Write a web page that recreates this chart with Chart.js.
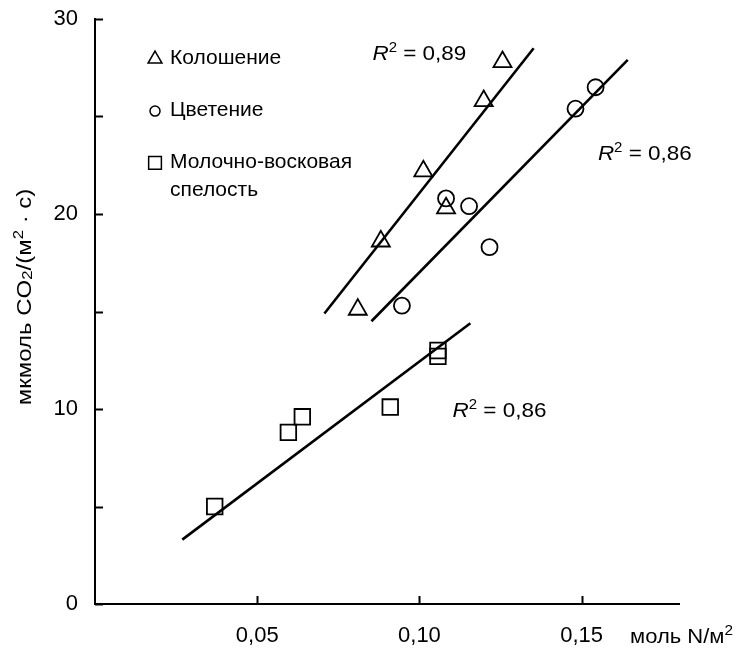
<!DOCTYPE html>
<html>
<head>
<meta charset="utf-8">
<script src="https://cdn.jsdelivr.net/npm/chart.js@4.4.1/dist/chart.umd.min.js"></script>
<style>
  html, body { margin: 0; padding: 0; background: #fff; }
  #wrap { width: 736px; height: 648px; position: relative; }
</style>
</head>
<body>
<div id="wrap"><canvas id="chart"></canvas></div>
<script>
// Колошение (треугольники)
const kolX = [0.0810, 0.0881, 0.1012, 0.1082, 0.1198, 0.1256];
const kolY = [15.1, 18.6, 22.2, 20.3, 25.8, 27.8];
// Цветение (кружки)
const cvetX = [0.0946, 0.1082, 0.1153, 0.1216, 0.1481, 0.1543];
const cvetY = [15.3, 20.8, 20.4, 18.3, 25.4, 26.5];
// Молочно-восковая спелость (квадраты)
const molX = [0.0369, 0.0596, 0.0639, 0.0910, 0.1057, 0.1057];
const molY = [5.0, 8.8, 9.6, 10.1, 13.0, 12.7];

// линии тренда (начало, конец)
const kolTrendX = [0.0707, 0.1352];
const kolTrendY = [14.9, 28.5];
const cvetTrendX = [0.0852, 0.1642];
const cvetTrendY = [14.5, 27.9];
const molTrendX = [0.0269, 0.1157];
const molTrendY = [3.3, 14.4];

const seriesNames = ['Колошение', 'Цветение', 'Молочно-восковая', 'спелость'];
const r2Values = ['0,89', '0,86', '0,86'];
const xTicks = [0.05, 0.10, 0.15];
const xTickLabels = ['0,05', '0,10', '0,15'];
const yTicks = [0, 10, 20, 30];
const yMinorTicks = [5, 15, 25];

const FONT = '"Liberation Sans", Arial, sans-serif';
const toPts = (xs, ys) => xs.map((x, i) => ({ x: x, y: ys[i] }));

// текст с верхними/нижними индексами, k - растяжение по горизонтали
function richText(ctx, x, y, parts, size, k, measureOnly) {
  ctx.save();
  ctx.translate(x, y);
  ctx.scale(k, 1);
  let cx = 0;
  parts.forEach(p => {
    const s = (p.sup || p.sub) ? Math.round(size * 0.68) : size;
    ctx.font = (p.italic ? 'italic ' : '') + s + 'px ' + FONT;
    let dy = 0;
    if (p.sup) dy = -size * 0.38;
    if (p.sub) dy = size * 0.05;
    if (!measureOnly) ctx.fillText(p.t, cx, dy);
    cx += ctx.measureText(p.t).width;
  });
  ctx.restore();
  return cx * k;
}

const extras = {
  id: 'extras',
  afterDraw(chart) {
    const ctx = chart.ctx;
    const xs = chart.scales.x, ys = chart.scales.y;
    const area = chart.chartArea;
    ctx.save();
    ctx.strokeStyle = '#000';
    ctx.fillStyle = '#000';
    ctx.lineWidth = 2;

    // засечки внутрь
    ctx.beginPath();
    yTicks.concat(yMinorTicks).forEach(v => {
      const py = Math.round(ys.getPixelForValue(v)) + 0.5;
      ctx.moveTo(area.left, py);
      ctx.lineTo(area.left + 8, py);
    });
    xTicks.forEach(v => {
      const px = Math.round(xs.getPixelForValue(v)) + 0.5;
      ctx.moveTo(px, area.bottom);
      ctx.lineTo(px, area.bottom - 8);
    });
    ctx.stroke();

    // R^2
    ctx.textBaseline = 'alphabetic';
    const r2Pos = [[0.0855, 28.26], [0.155, 23.13], [0.1102, 9.95]];
    r2Pos.forEach((p, i) => {
      const px = xs.getPixelForValue(p[0]);
      const py = ys.getPixelForValue(p[1]) + 7.5;
      richText(ctx, px, py, [
        { t: 'R', italic: true }, { t: '2', sup: true }, { t: ' = ' + r2Values[i] }
      ], 21, 1.07);
    });

    // легенда
    const legX = xs.getPixelForValue(0.0185);
    const legY = [28.0, 25.33, 22.67];
    const styles = [['triangle', 8], ['circle', 5], ['rect', 9]];
    ctx.fillStyle = 'rgba(0,0,0,0)';
    ctx.lineWidth = 1.5;
    legY.forEach((v, i) => {
      Chart.helpers.drawPoint(ctx, {
        pointStyle: styles[i][0], radius: styles[i][1], borderWidth: 1.5, rotation: 0
      }, legX, ys.getPixelForValue(v) + 1);
    });
    ctx.fillStyle = '#000';
    ctx.textBaseline = 'middle';
    ctx.textAlign = 'left';
    legY.forEach((v, i) => {
      richText(ctx, legX + 15, ys.getPixelForValue(v), [{ t: seriesNames[i] }], 21, 1);
    });
    richText(ctx, legX + 15, ys.getPixelForValue(legY[2]) + 28, [{ t: seriesNames[3] }], 21, 1);

    // подпись оси X
    ctx.textBaseline = 'alphabetic';
    richText(ctx, 630, 643, [{ t: 'моль N/м' }, { t: '2', sup: true }], 20, 1.1);

    // подпись оси Y
    ctx.translate(31, 297);
    ctx.rotate(-Math.PI / 2);
    const yParts = [
      { t: 'мкмоль CO' }, { t: '2', sub: true }, { t: '/(м' }, { t: '2', sup: true }, { t: ' · с)' }
    ];
    const w = richText(ctx, 0, 0, yParts, 20, 1.2, true);
    richText(ctx, -w / 2, 0, yParts, 20, 1.2);
    ctx.restore();
  }
};

const markerBase = {
  borderColor: '#000',
  backgroundColor: 'rgba(0,0,0,0)',
  borderWidth: 1.8,
  showLine: false
};
const trendBase = {
  type: 'line',
  borderColor: '#000',
  borderWidth: 2.6,
  pointRadius: 0,
  showLine: true,
  fill: false
};

new Chart(document.getElementById('chart'), {
  type: 'scatter',
  data: {
    datasets: [
      Object.assign({ label: seriesNames[0], data: toPts(kolX, kolY), pointStyle: 'triangle', pointRadius: 10.4 }, markerBase),
      Object.assign({ label: seriesNames[1], data: toPts(cvetX, cvetY), pointStyle: 'circle', pointRadius: 8 }, markerBase),
      Object.assign({ label: seriesNames[2], data: toPts(molX, molY), pointStyle: 'rect', pointRadius: 11 }, markerBase),
      Object.assign({ data: toPts(kolTrendX, kolTrendY) }, trendBase),
      Object.assign({ data: toPts(cvetTrendX, cvetTrendY) }, trendBase),
      Object.assign({ data: toPts(molTrendX, molTrendY) }, trendBase)
    ]
  },
  options: {
    responsive: true,
    maintainAspectRatio: false,
    animation: false,
    layout: { padding: { top: 19, right: 57, left: 0, bottom: 0 } },
    plugins: { legend: { display: false }, tooltip: { enabled: false } },
    scales: {
      x: {
        type: 'linear',
        min: 0,
        max: 0.18,
        afterBuildTicks: s => { s.ticks = xTicks.map(v => ({ value: v })); },
        afterFit: s => { s.height = 44; s.paddingLeft = 0; s.paddingRight = 0; },
        grid: { display: false, drawTicks: false },
        border: { display: true, color: '#000', width: 2 },
        ticks: {
          color: '#000',
          font: { family: FONT, size: 22 },
          padding: 19,
          callback: (v) => xTickLabels[xTicks.indexOf(v)]
        }
      },
      y: {
        min: 0,
        max: 30,
        afterBuildTicks: s => { s.ticks = yTicks.map(v => ({ value: v })); },
        afterFit: s => { s.width = 95; s.paddingTop = 0; s.paddingBottom = 0; },
        grid: { display: false, drawTicks: false },
        border: { display: true, color: '#000', width: 2 },
        ticks: {
          color: '#000',
          font: { family: FONT, size: 22 },
          padding: 17
        }
      }
    }
  },
  plugins: [extras]
});
</script>
</body>
</html>
